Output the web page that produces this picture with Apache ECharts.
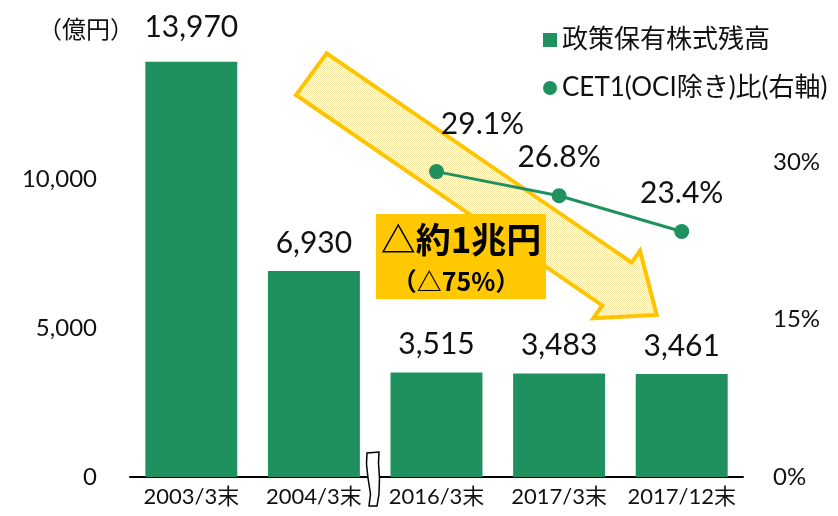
<!DOCTYPE html>
<html>
<head>
<meta charset="utf-8">
<script src="https://cdn.jsdelivr.net/npm/echarts@6/dist/echarts.min.js"></script>
<style>
  html, body { margin: 0; padding: 0; background: #fff; }
  #chart { width: 838px; height: 516px; }
</style>
</head>
<body>
<div id="chart"></div>
<script>
  var categories = ['2003/3末', '2004/3末', '2016/3末', '2017/3末', '2017/12末'];
  var holdings = [13970, 6930, 3515, 3483, 3461];      // 億円
  var cet1Ratio = [null, null, 29.1, 26.8, 23.4];      // %
  var leftTicks = [0, 5000, 10000];
  var rightTicks = [0, 15, 30];

  var FONT = 'Lato, "Noto Sans CJK JP", sans-serif';
  var JP = '"Noto Sans CJK JP", sans-serif';
  var GREEN = '#1e915f';

  // light dotted fill for the big arrow
  function dotPattern() {
    var c = document.createElement('canvas');
    c.width = 2; c.height = 2;
    var ctx = c.getContext('2d');
    ctx.fillStyle = '#ffffff';
    ctx.fillRect(0, 0, 2, 2);
    ctx.fillStyle = '#f8e6a4';
    ctx.fillRect(0, 0, 1, 1);
    ctx.fillRect(1, 1, 1, 1);
    return { image: c, repeat: 'repeat' };
  }

  var chart = echarts.init(document.getElementById('chart'));

  var option = {
    animation: false,
    textStyle: { fontFamily: FONT },
    grid: { left: 130, right: 95, top: 31, bottom: 39 },
    legend: {
      orient: 'vertical',
      left: 538,
      top: 22,
      itemWidth: 14,
      itemHeight: 14,
      itemGap: 22,
      textStyle: { fontFamily: FONT, fontSize: 26, color: '#111' },
      data: [
        { name: '政策保有株式残高', icon: 'rect' },
        { name: 'CET1(OCI除き)比(右軸)', icon: 'circle' }
      ]
    },
    xAxis: {
      type: 'category',
      data: categories,
      axisLine: { lineStyle: { color: '#000', width: 2 } },
      axisTick: { show: false },
      axisLabel: { color: '#111', fontSize: 22, margin: 9, interval: 0 }
    },
    yAxis: [{
      type: 'value',
      min: 0,
      max: 15000,
      interval: 5000,
      splitLine: { show: false },
      axisLine: { show: false },
      axisTick: { show: false },
      axisLabel: {
        color: '#111', fontSize: 24, margin: 33, showMaxLabel: false,
        formatter: function(v) {
          return leftTicks.indexOf(v) >= 0 ? v.toLocaleString('en-US') : '';
        }
      }
    }, {
      type: 'value',
      min: 0,
      max: 42.5,
      interval: 15,
      splitLine: { show: false },
      axisLine: { show: false },
      axisTick: { show: false },
      axisLabel: {
        color: '#111', fontSize: 24, margin: 30, showMaxLabel: false,
        formatter: function(v) {
          return rightTicks.indexOf(v) >= 0 ? v + '%' : '';
        }
      }
    }],
    series: [{
      name: '政策保有株式残高',
      type: 'bar',
      barCategoryGap: '25%',
      itemStyle: { color: GREEN },
      label: {
        show: true,
        position: 'top',
        distance: 13,
        fontSize: 30,
        color: '#111',
        formatter: function(p) { return p.value.toLocaleString('en-US'); }
      },
      data: holdings.map(function(v, i) {
        return i === 0 ? { value: v, label: { offset: [0, -6] } } : v;
      })
    }, {
      name: 'CET1(OCI除き)比(右軸)',
      type: 'line',
      yAxisIndex: 1,
      symbol: 'circle',
      symbolSize: 15,
      itemStyle: { color: GREEN },
      lineStyle: { color: GREEN, width: 3 },
      label: {
        show: true,
        position: 'top',
        distance: 16,
        fontSize: 30,
        color: '#111',
        formatter: function(p) { return p.value.toFixed(1) + '%'; }
      },
      data: cet1Ratio.map(function(v, i) {
        return i === 2 ? { value: v, label: { offset: [46, -9] } } : v;
      })
    }],
    graphic: [{
      type: 'text',
      z: 4,
      x: 38,
      y: 29,
      style: {
        text: '（億円）', fontSize: 24, fontWeight: 'normal', fontFamily: JP, fill: '#111',
        textAlign: 'left', textVerticalAlign: 'middle'
      }
    }, {
      type: 'polygon',
      z: 1,
      shape: {
        points: [[326.7, 53.3], [631.7, 262.6], [640, 250.7], [656.7, 315],
                 [593.3, 318.3], [602.3, 305.4], [296, 95]]
      },
      style: { fill: dotPattern(), stroke: '#ffc400', lineWidth: 4, lineJoin: 'miter' }
    }, {
      type: 'rect',
      z: 3,
      shape: { x: 376, y: 214, width: 170, height: 85 },
      style: { fill: '#ffc800' }
    }, {
      type: 'text',
      z: 4,
      x: 461,
      y: 240,
      style: {
        text: '△約1兆円', fontSize: 35, fontWeight: 'bold', fontFamily: JP, fill: '#000',
        textAlign: 'center', textVerticalAlign: 'middle'
      }
    }, {
      type: 'text',
      z: 4,
      x: 456,
      y: 281,
      style: {
        text: '（△75%）', fontSize: 25, fontWeight: 'bold', fontFamily: JP, fill: '#000',
        textAlign: 'center', textVerticalAlign: 'middle'
      }
    }, {
      // axis break mark between 2004 and 2016
      type: 'polygon',
      z: 50,
      shape: {
        points: [[367, 453], [379, 452], [378.5, 463], [379.5, 478], [379, 494], [377, 506],
                 [369, 506], [370.5, 494], [368, 478], [366.5, 464]]
      },
      style: { fill: '#fff', stroke: '#000', lineWidth: 1.5 }
    }]
  };

  chart.setOption(option);
</script>
</body>
</html>
